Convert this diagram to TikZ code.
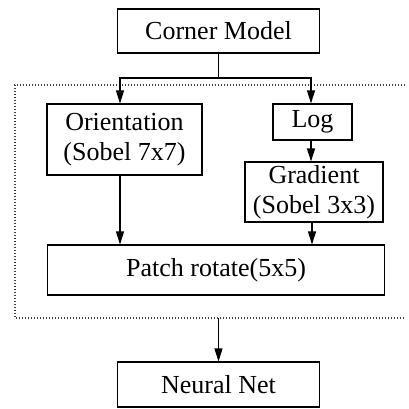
\documentclass[tikz,border=0pt]{standalone}
\usepackage{fontspec}
\setmainfont{Liberation Serif}
\usetikzlibrary{arrows.meta}

\begin{document}
\begin{tikzpicture}[x=1pt,y=-1pt,
	block/.style={draw=black, line width=1.1pt, inner sep=0pt, align=center, font=\fontsize{26}{30}\selectfont},
	flow/.style={line width=1.1pt, -{Triangle[length=13pt,width=8pt]}},
	fence/.style={draw=black!75, line width=1.2pt, dash pattern=on 1.2pt off 1.8pt}]
	\useasboundingbox (0,0) rectangle (408,409);
	% blocks
	\node [block, minimum width=202, minimum height=44] (corner) at (218.5,31) {Corner Model};
	\node [block, minimum width=155, minimum height=71] (orient) at (124.5,139.5) {Orientation\\(Sobel 7x7)};
	\node [block, minimum width=79, minimum height=36] (log) at (312.5,122) {Log};
	\node [block, minimum width=138, minimum height=60] (grad) at (314,192) {Gradient\\(Sobel 3x3)};
	\node [block, minimum width=337, minimum height=50] (patch) at (216,270) {Patch rotate(5x5)};
	\node [block, minimum width=202, minimum height=45] (net) at (218.5,384.5) {Neural Net};
	% dotted frame, open on the right
	\draw [fence] (405,85) -- (15,85) -- (15,318) -- (405,318);
	\coordinate (split) at (218.5,78);
	\coordinate (exit) at (218.5,318);
	% connectors
	\draw [line width=1.1pt] (corner.south) -- (split);
	\draw [flow] (split) -| ([xshift=-4.5]orient.north);
	\draw [flow] (split) -| ([xshift=-1.5]log.north);
	\draw [flow] ([xshift=-1.5]log.south) -- ([xshift=-1.5]log.south |- grad.north);
	\draw [flow] ([xshift=-4.5]orient.south) -- ([xshift=-4.5]orient.south |- patch.north);
	\draw [flow] ([xshift=-2]grad.south) -- ([xshift=-2]grad.south |- patch.north);
	\draw [flow] (exit) -- (net.north);
\end{tikzpicture}
\end{document}
